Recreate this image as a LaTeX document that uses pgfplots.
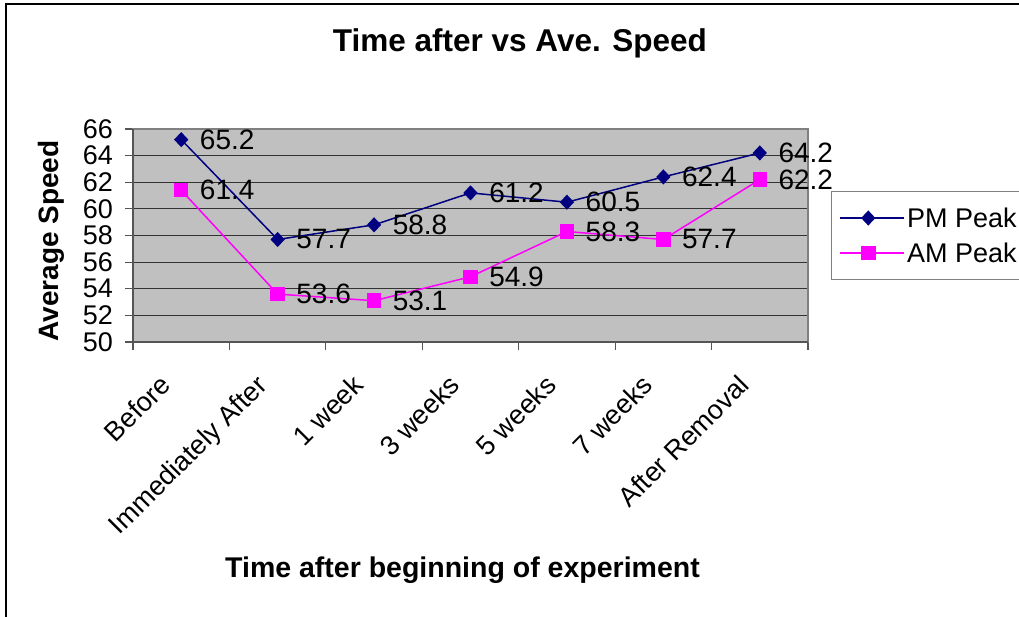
\documentclass[border=0pt]{standalone}
\usepackage{pgfplots}
\pgfplotsset{compat=1.18}
\usepackage{fontspec}
\setmainfont{Liberation Sans}
\definecolor{pm}{HTML}{000080}
\definecolor{am}{HTML}{FF00FF}
\definecolor{plotbg}{HTML}{C0C0C0}
\definecolor{axgray}{HTML}{808080}
\definecolor{axdark}{HTML}{555555}
\newcommand{\fs}[1]{\fontsize{#1}{#1}\selectfont}
\begin{document}
\begin{tikzpicture}[x=1pt,y=1pt]
\useasboundingbox (0,0) rectangle (1019,617);
\draw[line width=2.5pt] (6,-5) -- (6,613) -- (1025,613);
\begin{axis}[
  at={(133pt,275pt)}, anchor=south west,
  width=675pt, height=213pt, scale only axis,
  clip=false,
  /pgf/number format/assume math mode=true,
  xmin=-0.5, xmax=6.5, ymin=50, ymax=66,
  ytick={50,52,...,66},
  xtick={0,...,6},
  xticklabels={Before, Immediately After, 1 week, 3 weeks, 5 weeks, 7 weeks, After Removal},
  minor xtick={-0.5,0.5,...,6.5},
  major x tick style={draw=none},
  tick align=outside, tick pos=left,
  major tick length=8pt, minor tick length=8pt,
  every tick/.style={draw=axdark, line width=1.2pt},
  axis background/.style={fill=plotbg},
  axis line style={draw=axgray, line width=1.5pt},
  ymajorgrids,
  major y grid style={draw=black!80, line width=0.8pt},
  yticklabel style={font=\fs{27}, inner sep=0pt, xshift=-12pt},
  xticklabel style={font=\fs{27}, inner sep=0pt, xshift=-23pt, yshift=-23pt, rotate=45, anchor=north east},
  nodes near coords,
  every node near coord/.append style={font=\fs{28}, black, anchor=west, inner sep=0pt, xshift=18pt},
  legend style={at={(axis description cs:1.0341,0.7089)}, anchor=north west,
    draw=axgray, line width=1pt, fill=white, font=\fs{27},
    inner xsep=8pt, inner ysep=14pt, row sep=10pt},
  legend cell align=left,
  legend image code/.code={\path (0pt,0pt) -- (64pt,0pt);\draw[mark repeat=2,mark phase=2] plot coordinates {(0pt,0pt) (28pt,0pt) (56pt,0pt)};},
  after end axis/.code={\draw[axdark, line width=1.5pt] (rel axis cs:0,1) -- (rel axis cs:0,0) -- (rel axis cs:1,0);},
]
\addplot[pm, line width=1.5pt, mark=diamond*, mark size=6.5pt, mark options={xscale=1.25, solid, fill=pm}]
  coordinates {(0,65.2) (1,57.7) (2,58.8) (3,61.2) (4,60.5) (5,62.4) (6,64.2)};
\addlegendentry{PM Peak}
\addplot[am, line width=1.5pt, mark=square*, mark size=6.5pt, mark options={solid, fill=am}]
  coordinates {(0,61.4) (1,53.6) (2,53.1) (3,54.9) (4,58.3) (5,57.7) (6,62.2)};
\addlegendentry{AM Peak}
\end{axis}
\node[font=\bfseries\fs{31.5}, anchor=base] at (520,565) {Time after vs Ave. Speed};
\node[font=\bfseries\fs{28}, anchor=base, rotate=90] at (58,376) {Average Speed};
\node[font=\bfseries\fs{28.5}, anchor=base] at (462.5,39) {Time after beginning of experiment};
\end{tikzpicture}
\end{document}
